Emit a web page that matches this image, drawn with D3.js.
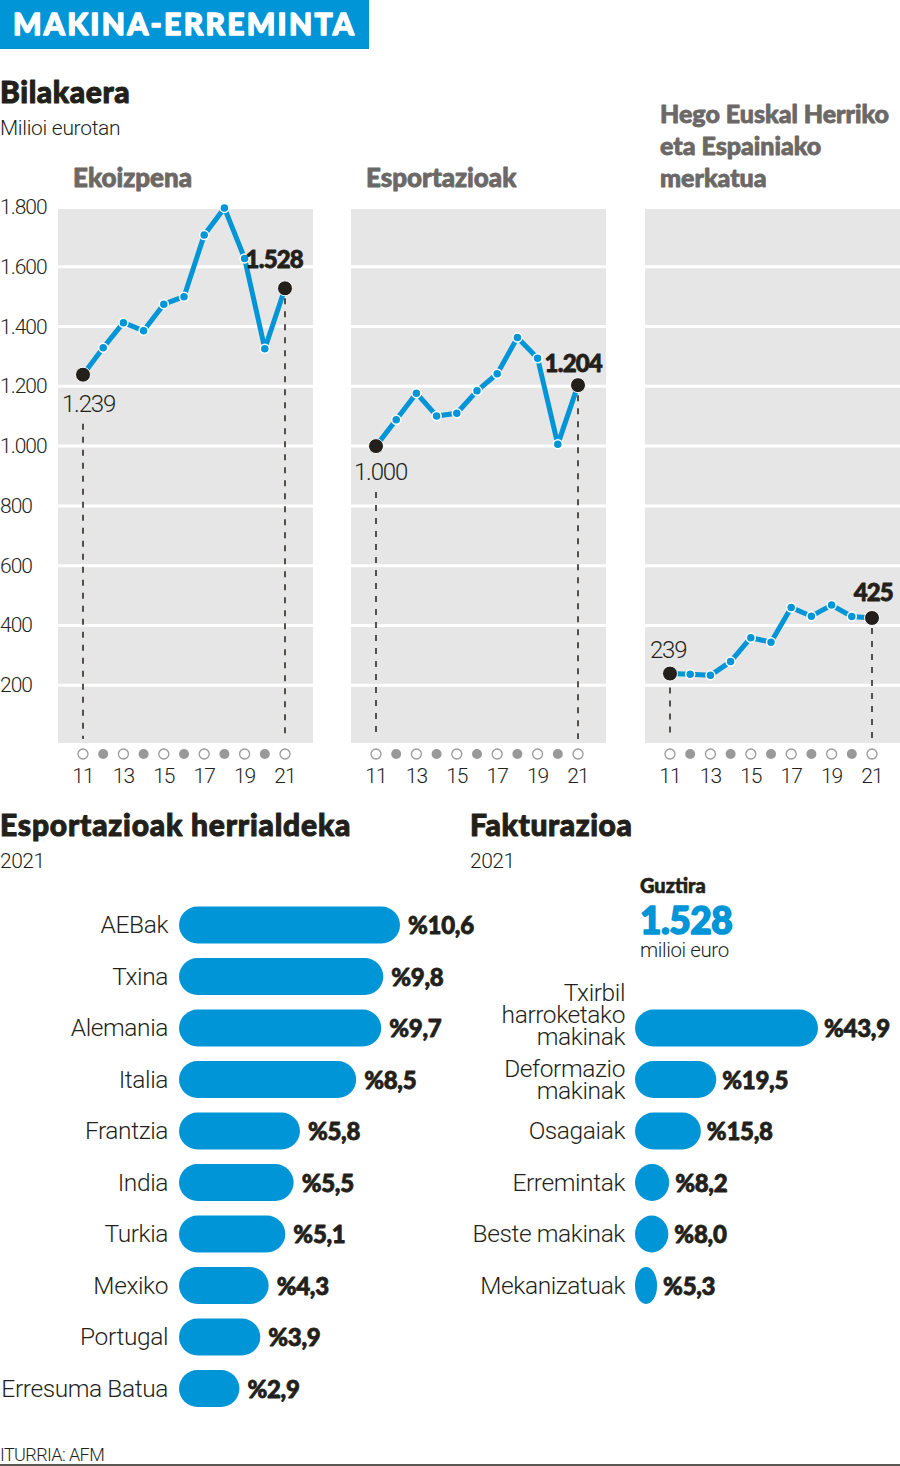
<!DOCTYPE html>
<html><head><meta charset="utf-8">
<script src="https://cdn.jsdelivr.net/npm/d3@7"></script>
<style>
html,body{margin:0;padding:0;background:#fff;}
svg{display:block;}
.lt{font-family:Roboto,"Open Sans",sans-serif;font-weight:300;fill:#231f1a;}
.bd{font-family:Lato,"Open Sans",sans-serif;font-weight:900;fill:#231f1a;stroke:#231f1a;stroke-width:0.8;stroke-linejoin:round;}
</style>
</head><body>
<svg id="c" width="900" height="1466"></svg>
<script>
// ---------- DATA ----------
const years = [2011,2012,2013,2014,2015,2016,2017,2018,2019,2020,2021];
const yTicks = [200,400,600,800,1000,1200,1400,1600,1800];
const ekoizpena = [1239,1329,1413,1386,1475,1500,1706,1797,1628,1326,1528];
const esportazioak = [1000,1088,1177,1101,1110,1185,1242,1363,1294,1006,1204];
const merkatua = [239,237,233,279,359,344,460,431,468,430,425];
const panelTitles = [["Ekoizpena"],["Esportazioak"],["Hego Euskal Herriko","eta Espainiako","merkatua"]];

const countries = ["AEBak","Txina","Alemania","Italia","Frantzia","India","Turkia","Mexiko","Portugal","Erresuma Batua"];
const countryShare = [10.6,9.8,9.7,8.5,5.8,5.5,5.1,4.3,3.9,2.9];

const segments = [["Txirbil","harroketako","makinak"],["Deformazio","makinak"],["Osagaiak"],["Erremintak"],["Beste makinak"],["Mekanizatuak"]];
const segmentShare = [43.9,19.5,15.8,8.2,8.0,5.3];
const totalTurnover = 1528;

// ---------- STYLE ----------
const BLUE = "#0095d6", DARK = "#231f1a", GREY = "#6b6866", PANEL = "#e6e6e6";
const fmt = v => d3.format(",")(v).replace(/,/g,".");
const fmtPct = v => "%" + d3.format(".1f")(v).replace(".",",");
const col = (sel,c) => sel.style("fill",c).style("stroke",c);

const svg = d3.select("#c");

// Header
svg.append("rect").attr("x",0).attr("y",0).attr("width",369).attr("height",49).attr("fill",BLUE);
col(svg.append("text").attr("class","bd").attr("x",13).attr("y",35).attr("font-size",30)
  .style("stroke-width",1.4).attr("letter-spacing",2.3).text("MAKINA-ERREMINTA"),"#fff");

svg.append("text").attr("class","bd").attr("x",0).attr("y",103).attr("font-size",30).style("stroke-width",1).attr("letter-spacing",0.6).text("Bilakaera");
svg.append("text").attr("class","lt").attr("x",0).attr("y",135).attr("font-size",21).attr("letter-spacing",-0.3).text("Milioi eurotan");

// ---------- LINE PANELS ----------
const y = d3.scaleLinear().domain([0,1800]).range([745,207]);
const panelX = [58,351,645], panelW = 255, panelTop = 209, panelBottom = 743;
const series = [ekoizpena, esportazioak, merkatua];
const lab = [
  {s:[-21,37], e:[18,-20]},
  {s:[-22,34], e:[24,-13]},
  {s:[-20,-16], e:[21,-17]}
];

svg.append("g").selectAll("text").data(yTicks).join("text")
  .attr("class","lt").attr("x",0).attr("y",d=>y(d)+7).attr("font-size",21)
  .attr("letter-spacing",-1).text(d=>fmt(d));

panelX.forEach((px,i)=>{
  const g = svg.append("g").attr("transform",`translate(${px},0)`);
  const x = d3.scaleLinear().domain([2011,2021]).range([25,227]);
  const data = series[i];
  const t = col(g.append("text").attr("class","bd").attr("font-size",i===2?25:26),GREY);
  panelTitles[i].forEach((line,k)=>{
    t.append("tspan").attr("x",15).attr("y",187 - (panelTitles[i].length-1-k)*32).text(line);
  });
  g.append("rect").attr("x",0).attr("y",panelTop).attr("width",panelW).attr("height",panelBottom-panelTop).attr("fill",PANEL);
  g.selectAll("line.grid").data(yTicks.filter(d=>d<1800)).join("line").attr("class","grid")
    .attr("x1",0).attr("x2",panelW).attr("y1",d=>y(d)).attr("y2",d=>y(d))
    .attr("stroke","#fff").attr("stroke-width",3);
  g.selectAll("circle.yr").data(years).join("circle").attr("class","yr")
    .attr("cx",d=>x(d)).attr("cy",754).attr("r",5)
    .attr("fill",(d,k)=>k%2?"#999":"#fff").attr("stroke",(d,k)=>k%2?"none":"#999").attr("stroke-width",1.3);
  g.selectAll("text.yr").data(years.filter((d,k)=>k%2===0)).join("text").attr("class","lt yr")
    .attr("x",d=>x(d)).attr("y",783).attr("text-anchor","middle").attr("font-size",21)
    .attr("letter-spacing",-1).text(d=>String(d).slice(2));
  const first = data[0], last = data[data.length-1];
  g.append("line").attr("x1",x(2011)).attr("x2",x(2011))
    .attr("y1", i===2 ? y(first)+14 : y(first)+lab[i].s[1]+12).attr("y2",panelBottom-4)
    .attr("stroke",DARK).attr("stroke-width",1.5).attr("stroke-dasharray","6,7");
  g.append("line").attr("x1",x(2021)).attr("x2",x(2021))
    .attr("y1",y(last)+10).attr("y2",panelBottom-4)
    .attr("stroke",DARK).attr("stroke-width",1.5).attr("stroke-dasharray","6,7");
  const line = d3.line().x((d,k)=>x(years[k])).y(d=>y(d));
  g.append("path").datum(data).attr("d",line).attr("fill","none")
    .attr("stroke",BLUE).attr("stroke-width",5).attr("stroke-linejoin","round");
  g.selectAll("circle.pt").data(data.slice(1,-1)).join("circle").attr("class","pt")
    .attr("cx",(d,k)=>x(years[k+1])).attr("cy",d=>y(d)).attr("r",4.5)
    .attr("fill",BLUE).attr("stroke","#fff").attr("stroke-width",1.5);
  [[2011,first],[2021,last]].forEach(([yr,v])=>{
    g.append("circle").attr("cx",x(yr)).attr("cy",y(v)).attr("r",7.5).attr("fill",DARK).attr("stroke","#fff").attr("stroke-width",1);
  });
  g.append("text").attr("class","lt").attr("font-size",24).attr("letter-spacing",-1.2)
    .attr("x",x(2011)+lab[i].s[0]).attr("y",y(first)+lab[i].s[1]).text(fmt(first));
  g.append("text").attr("class","bd").attr("font-size",24).attr("letter-spacing",-0.8).attr("text-anchor","end")
    .attr("x",x(2021)+lab[i].e[0]).attr("y",y(last)+lab[i].e[1]).text(fmt(last));
});

// ---------- BAR CHARTS ----------
svg.append("text").attr("class","bd").attr("x",0).attr("y",836).attr("font-size",30).style("stroke-width",1).attr("letter-spacing",0.8).text("Esportazioak herrialdeka");
svg.append("text").attr("class","lt").attr("x",0).attr("y",868).attr("font-size",21).attr("letter-spacing",-0.5).text("2021");
svg.append("text").attr("class","bd").attr("x",470).attr("y",836).attr("font-size",30).style("stroke-width",1).attr("letter-spacing",0.6).text("Fakturazioa");
svg.append("text").attr("class","lt").attr("x",470).attr("y",868).attr("font-size",21).attr("letter-spacing",-0.5).text("2021");

const BH = 37;
const rows = d3.scaleLinear().domain([0,1]).range([925,976.5]);
const cy = k => rows(k);

const xc = d3.scaleLinear().domain([0,10.6]).range([0,221]);
const gc = svg.append("g");
countries.forEach((c,k)=>{
  const w = xc(countryShare[k]);
  gc.append("rect").attr("x",179).attr("y",cy(k)-BH/2).attr("width",w).attr("height",BH)
    .attr("rx",Math.min(BH/2,w/2)).attr("ry",BH/2).attr("fill",BLUE);
  gc.append("text").attr("class","lt").attr("x",168).attr("y",cy(k)+8).attr("font-size",24.5)
    .attr("text-anchor","end").attr("letter-spacing",-0.4).text(c);
  gc.append("text").attr("class","bd").attr("x",179+w+8).attr("y",cy(k)+9).attr("font-size",24)
    .attr("letter-spacing",-0.3).text(fmtPct(countryShare[k]));
});

col(svg.append("text").attr("class","bd").attr("x",640).attr("y",893).attr("font-size",20).style("stroke-width",0.6).text("Guztira"),DARK);
col(svg.append("text").attr("class","bd").attr("x",640).attr("y",934).attr("font-size",37).style("stroke-width",1.6)
  .attr("letter-spacing",-0.5).text(fmt(totalTurnover)),BLUE);
svg.append("text").attr("class","lt").attr("x",640).attr("y",957).attr("font-size",20.5).attr("letter-spacing",-0.4).text("milioi euro");

const xs = d3.scaleLinear().domain([0,43.9]).range([0,183]);
const gs = svg.append("g");
segments.forEach((lines,k)=>{
  const c = cy(k+2);
  const w = xs(segmentShare[k]);
  gs.append("rect").attr("x",635).attr("y",c-BH/2).attr("width",w).attr("height",BH)
    .attr("rx",Math.min(BH/2,w/2)).attr("ry",BH/2).attr("fill",BLUE);
  const t = gs.append("text").attr("class","lt").attr("font-size",24.5).attr("text-anchor","end").attr("letter-spacing",-0.4);
  const n = lines.length;
  const off = n===3 ? -13 : 0;
  lines.forEach((ln,j)=>{
    t.append("tspan").attr("x",625).attr("y", c + 8 + (j-(n-1)/2)*22 + off).text(ln);
  });
  gs.append("text").attr("class","bd").attr("x",635+w+6).attr("y",c+9).attr("font-size",24)
    .attr("letter-spacing",-0.3).text(fmtPct(segmentShare[k]));
});

svg.append("text").attr("class","lt").attr("x",0).attr("y",1461).attr("font-size",18).attr("letter-spacing",-0.6).text("ITURRIA: AFM");
svg.append("line").attr("x1",0).attr("x2",900).attr("y1",1465).attr("y2",1465).attr("stroke",DARK).attr("stroke-width",1.5);
</script>
</body></html>
